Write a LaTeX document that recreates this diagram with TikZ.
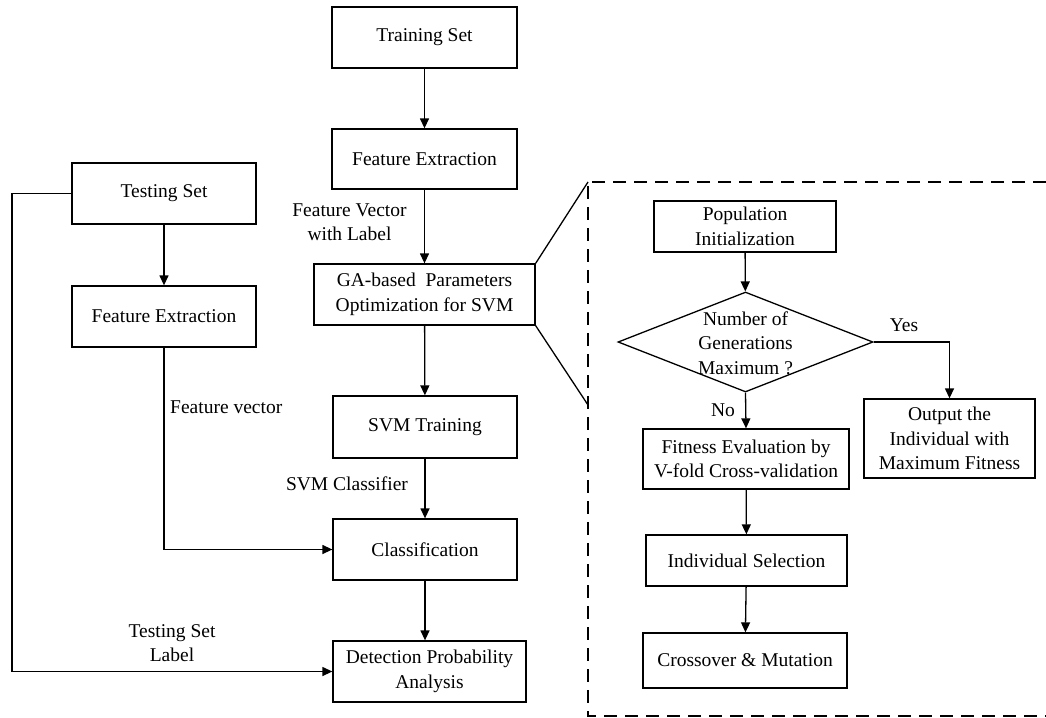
\documentclass[tikz,border=0pt]{standalone}
\usepackage{fontspec}
\setmainfont{Liberation Serif}
\usetikzlibrary{arrows.meta,shapes.geometric}

\begin{document}
\begin{tikzpicture}[x=1pt,y=-1pt,
        font=\fontsize{19.5}{24.5}\selectfont,
        box/.style={rectangle,draw,line width=1.3pt,inner sep=0pt,align=center},
        arr/.style={-{Triangle[length=10pt,width=9pt]},line width=1.3pt},
        conn/.style={line width=1.3pt},
        zoomframe/.style={line width=1.8pt,dash pattern=on 13pt off 8pt}]
        \useasboundingbox (0,0) rectangle (1046,717);
        % training branch
        \draw (424.5,37.5) node[box,minimum width=185pt,minimum height=61pt] (train) {Training Set};
        \draw (424.5,159) node[box,minimum width=185pt,minimum height=60pt] (fetrain) {Feature Extraction};
        \draw (424.5,294.5) node[box,minimum width=221pt,minimum height=61pt] (ga) {GA-based\ \ Parameters\\Optimization for SVM};
        \draw (425,427) node[box,minimum width=184pt,minimum height=62pt] (svmtrain) {SVM Training};
        \draw (425,549.5) node[box,minimum width=184pt,minimum height=61pt] (classif) {Classification};
        \draw (429.5,671.5) node[box,minimum width=193pt,minimum height=61pt] (detect) {Detection Probability\\Analysis};
        % testing branch
        \draw (164,193.5) node[box,minimum width=184pt,minimum height=61pt] (test) {Testing Set};
        \draw (164,316.5) node[box,minimum width=184pt,minimum height=61pt] (fetest) {Feature Extraction};
        \coordinate (rail) at (12,0);
        % GA detail
        \draw (745,226.5) node[box,minimum width=182pt,minimum height=51pt] (popinit) {Population\\Initialization};
        \draw (745.5,342) node[diamond,draw,line width=1.3pt,minimum width=255pt,minimum height=100pt,inner sep=0pt] (maxgen) {};
        \draw (745.5,343) node[align=center,inner sep=0pt] (maxgentext) {Number of\\Generations\\Maximum ?};
        \draw (746,459) node[box,minimum width=206pt,minimum height=60pt] (fitness) {Fitness Evaluation by\\V-fold Cross-validation};
        \draw (949.5,438.5) node[box,minimum width=171pt,minimum height=79pt] (outbest) {Output the\\Individual with\\Maximum Fitness};
        \draw (746.5,560.5) node[box,minimum width=201pt,minimum height=51pt] (indsel) {Individual Selection};
        \draw (745,660.5) node[box,minimum width=204pt,minimum height=55pt] (crossover) {Crossover \& Mutation};
        % dashed frame
        \coordinate (zoomtop) at (588,182);
        \coordinate (zoombot) at (588,405);
        \draw[zoomframe] (1046,182) -- (zoomtop) -- (588,716) -- (1046,716);
        \draw[conn] (ga.north east) -- (zoomtop);
        \draw[conn] (ga.south east) -- (zoombot);
        % connectors
        \draw[arr] (train) -- (fetrain);
        \draw[arr] (fetrain) -- (ga);
        \draw[arr] (ga) -- (svmtrain);
        \draw[arr] (svmtrain) -- (classif);
        \draw[arr] (classif.south) -- (classif.south |- detect.north);
        \draw[arr] (test) -- (fetest);
        \draw[arr] (fetest.south) |- (classif.west);
        \draw[arr] (test.west) -- (test.west -| rail) |- (detect.west);
        \draw[arr] (popinit) -- (maxgen);
        \draw[arr] (maxgen.east) -| (outbest.north);
        \draw[arr] (maxgen.south) -- (fitness.north);
        \draw[arr] (fitness) -- (indsel);
        \draw[arr] (indsel) -- (crossover);
        % labels
        \draw (349.5,222) node[align=center] (fvlabel) {Feature Vector\\with Label};
        \draw (347,484) node (svmlabel) {SVM Classifier};
        \draw (170,407) node[anchor=west,inner sep=0pt] (fvtest) {Feature vector};
        \draw (172,643) node[align=center] (tslabel) {Testing Set\\Label};
        \draw (904,325) node (yes) {Yes};
        \draw (723,410) node (no) {No};
    \end{tikzpicture}
\end{document}
